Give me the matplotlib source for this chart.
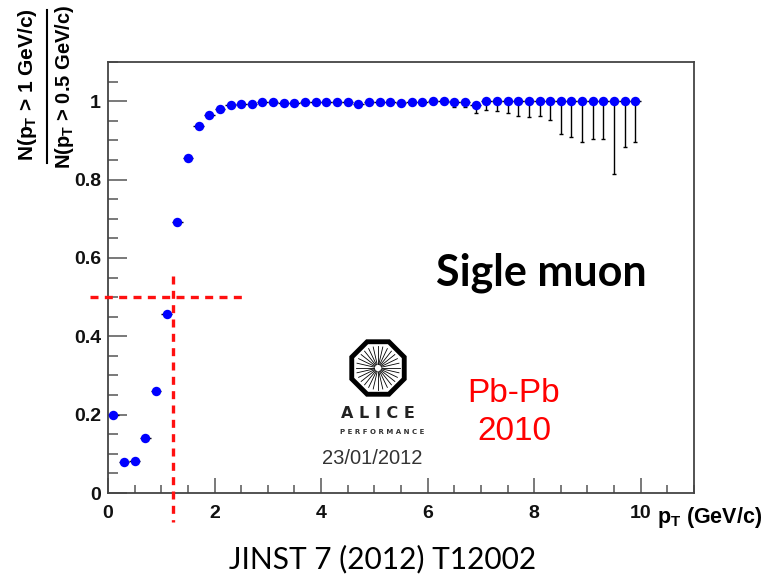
import numpy as np
import matplotlib
matplotlib.use("Agg")
import matplotlib.pyplot as plt
from matplotlib.patches import RegularPolygon
from matplotlib.ticker import MultipleLocator, FixedLocator, FixedFormatter

plt.rcParams['mathtext.fontset'] = 'custom'
plt.rcParams['mathtext.rm'] = 'Liberation Sans:bold'
plt.rcParams['mathtext.it'] = 'Liberation Sans:bold'

# bin centres (0.2 GeV/c wide bins)
pt = [0.1, 0.3, 0.5, 0.7, 0.9, 1.1, 1.3, 1.5, 1.7, 1.9,
      2.1, 2.3, 2.5, 2.7, 2.9, 3.1, 3.3, 3.5, 3.7, 3.9,
      4.1, 4.3, 4.5, 4.7, 4.9, 5.1, 5.3, 5.5, 5.7, 5.9,
      6.1, 6.3, 6.5, 6.7, 6.9, 7.1, 7.3, 7.5, 7.7, 7.9,
      8.1, 8.3, 8.5, 8.7, 8.9, 9.1, 9.3, 9.5, 9.7, 9.9]

ratio = [0.200, 0.078, 0.082, 0.141, 0.260, 0.458, 0.691, 0.856, 0.936, 0.966,
         0.981, 0.991, 0.993, 0.993, 0.997, 0.998, 0.995, 0.995, 0.998, 0.998,
         0.999, 0.998, 0.998, 0.993, 0.999, 0.998, 0.999, 0.996, 0.999, 0.999,
         1.000, 1.000, 0.998, 0.998, 0.991, 1.000, 1.000, 1.000, 1.000, 1.000,
         1.000, 1.000, 1.000, 1.000, 1.000, 1.000, 1.000, 1.000, 1.000, 1.000]

err_low = [0.004, 0.003, 0.003, 0.004, 0.005, 0.006, 0.006, 0.005, 0.004, 0.004,
           0.003, 0.003, 0.003, 0.003, 0.003, 0.003, 0.003, 0.003, 0.003, 0.003,
           0.004, 0.004, 0.004, 0.004, 0.005, 0.005, 0.005, 0.005, 0.006, 0.006,
           0.007, 0.008, 0.012, 0.013, 0.020, 0.023, 0.024, 0.030, 0.037, 0.041,
           0.039, 0.047, 0.083, 0.091, 0.105, 0.096, 0.096, 0.186, 0.117, 0.105]

bin_half = 0.1
x_ticks = [0, 2, 4, 6, 8, 10]
x_tick_labels = ['0', '2', '4', '6', '8', '10']
y_ticks = [0, 0.2, 0.4, 0.6, 0.8, 1.0]
y_tick_labels = ['0', '0.2', '0.4', '0.6', '0.8', '1']

# red guide lines: 50% level and the pT value where it is reached
half_level = 0.5
half_pt = 1.22

fig = plt.figure(figsize=(7.74, 5.76), dpi=100)
W, H = 774, 576


def fx(px):
    return px / W


def fy(py):
    return 1 - py / H


ax = fig.add_axes([fx(108), fy(493), (694 - 108) / W, (493 - 62) / H])

lo = np.array(err_low)
# horizontal bars = bin width, vertical bars = lower stat. error
ax.errorbar(pt, ratio, xerr=bin_half, fmt='none', ecolor='black',
            elinewidth=1.0, capsize=0, zorder=2)
ax.errorbar(pt, ratio, yerr=[lo, np.zeros_like(lo)], fmt='none', ecolor='black',
            elinewidth=1.0, capsize=1.2, capthick=1.0, zorder=2)
ax.plot(pt, ratio, 'o', color='#0000ff', markersize=6.8, markeredgewidth=0, zorder=3)

ax.plot([-0.34, 2.54], [half_level, half_level], color='#ff1010', lw=2.4,
        dashes=(2.4, 1.9), clip_on=False, zorder=4)
ax.plot([half_pt, half_pt], [0.555, -0.075], color='#ff1010', lw=2.4,
        dashes=(2.4, 1.9), clip_on=False, zorder=4)

ax.set_xlim(0, 11)
ax.set_ylim(0, 1.1)
ax.xaxis.set_major_locator(FixedLocator(x_ticks))
ax.xaxis.set_major_formatter(FixedFormatter(x_tick_labels))
ax.yaxis.set_major_locator(FixedLocator(y_ticks))
ax.yaxis.set_major_formatter(FixedFormatter(y_tick_labels))
ax.xaxis.set_minor_locator(MultipleLocator(0.5))
ax.yaxis.set_minor_locator(MultipleLocator(0.05))

for sp in ax.spines.values():
    sp.set_color('#444444')
    sp.set_linewidth(1.3)

ax.tick_params(axis='x', which='major', direction='in', length=11, width=1.1,
               color='#555555', pad=9)
ax.tick_params(axis='x', which='minor', direction='in', length=6, width=1.1,
               color='#555555')
ax.tick_params(axis='y', which='major', direction='in', length=14, width=1.1,
               color='#555555', pad=5)
ax.tick_params(axis='y', which='minor', direction='in', length=7, width=1.1,
               color='#555555')
for lab in ax.get_xticklabels() + ax.get_yticklabels():
    lab.set_fontfamily('Liberation Sans')
    lab.set_fontweight('bold')
    lab.set_fontsize(14)
    lab.set_color('#111111')

# axis titles
fig.text(fx(710), fy(518), r'$\mathrm{p_T}$ (GeV/c)', fontsize=15.5, fontweight='bold',
         family='Liberation Sans', ha='center', va='center')
fig.text(fx(28), fy(85), r'N($\mathrm{p_T}$ > 1 GeV/c)', fontsize=15,
         fontweight='bold', family='Liberation Sans', rotation=90,
         ha='center', va='center')
fig.text(fx(64), fy(87), r'N($\mathrm{p_T}$ > 0.5 GeV/c)', fontsize=14.5,
         fontweight='bold', family='Liberation Sans', rotation=90,
         ha='center', va='center')
fig.add_artist(plt.Line2D([fx(47), fx(47)], [fy(10), fy(163)], color='black', lw=1.5))

# annotations
fig.text(fx(541), fy(285), 'Sigle muon', fontsize=31, fontweight='bold',
         family='Lato', ha='center', va='baseline')
fig.text(fx(514), fy(402), 'Pb-Pb', fontsize=24, color='#ff0000',
         family='Liberation Sans', ha='center', va='baseline')
fig.text(fx(514), fy(440), '2010', fontsize=24, color='#ff0000',
         family='Liberation Sans', ha='center', va='baseline')
fig.text(fx(383), fy(568), 'JINST 7 (2012) T12002', fontsize=21.5,
         family='Lato', ha='center', va='baseline')

# ALICE performance logo
lax = fig.add_axes([fx(346), fy(400), 64 / W, 64 / H])
lax.set_xlim(-1.07, 1.07)
lax.set_ylim(-1.07, 1.07)
lax.axis('off')
lax.add_patch(RegularPolygon((0, 0), 8, radius=0.95, orientation=np.pi / 8,
                             facecolor='white', edgecolor='black', lw=3.5))
for a in np.linspace(0, 2 * np.pi, 28, endpoint=False):
    lax.plot([0.12 * np.cos(a), 0.72 * np.cos(a)], [0.12 * np.sin(a), 0.72 * np.sin(a)],
             color='black', lw=0.6)
fig.text(fx(378), fy(413), 'A L I C E', fontsize=11.5, fontweight='bold',
         family='DejaVu Sans', ha='center', va='center', color='#222222')
fig.text(fx(382), fy(432), 'P E R F O R M A N C E', fontsize=5, fontweight='bold',
         family='DejaVu Sans', ha='center', va='center', color='#333333')
fig.text(fx(372), fy(458), '23/01/2012', fontsize=14.5,
         family='Liberation Sans', ha='center', va='center', color='#333333')

fig.savefig('out.png', dpi=100)
